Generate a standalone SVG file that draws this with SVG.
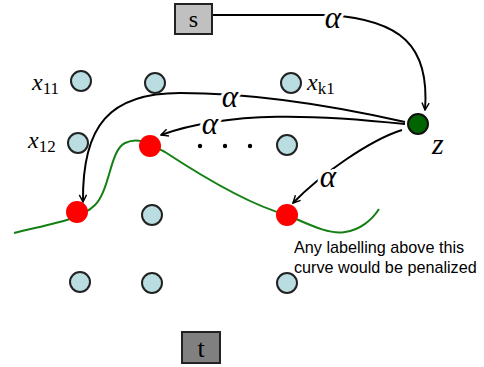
<svg xmlns="http://www.w3.org/2000/svg" width="484" height="367" viewBox="0 0 484 367">
<defs>
<marker id="ah" viewBox="0 0 10 10" refX="9" refY="5" markerWidth="9" markerHeight="9" orient="auto" markerUnits="userSpaceOnUse">
<path d="M1,1 L9,5 L1,9" fill="none" stroke="#000" stroke-width="1.6"/>
</marker>
<style>
.x{fill:#b9dde0;stroke:#222;stroke-width:2}
.r{fill:#f00}
.c{fill:none;stroke:#000;stroke-width:2}
.a{font-family:"Liberation Serif",serif;font-style:italic;font-size:31px;fill:#000;stroke:#fff;stroke-width:6px;paint-order:stroke;text-anchor:middle}
.m{font-family:"Liberation Serif",serif;font-style:italic;font-size:24px;fill:#000}
.z{font-family:"Liberation Serif",serif;font-style:italic;font-size:30px;fill:#000}
.sub{font-size:17px;font-style:normal}
.t{font-family:"Liberation Sans",Arial,sans-serif;font-size:16.2px;fill:#000}
</style>
</defs>
<rect width="484" height="367" fill="#fff"/>
<g id="connectors">
<path class="c" d="M212,15 L330,15 C400,20 430,45 425,110" marker-end="url(#ah)"/>
<path class="c" d="M405,122 C330,105 250,93 180,93 C110,93 82,125 83,202" marker-end="url(#ah)"/>
<path class="c" d="M405,124 C320,115 230,110 161,135" marker-end="url(#ah)"/>
<path class="c" d="M402,130 C370,140 320,175 293,203" marker-end="url(#ah)"/>
</g>
<g id="labels-alpha">
<text class="a" x="333" y="28">α</text>
<text class="a" x="230" y="107">α</text>
<text class="a" x="210" y="134">α</text>
<text class="a" x="328" y="187">α</text>
</g>
<g id="curve">
<path d="M14,233 C50,224 80,220 95,205 C110,190 110,150 125,143 C140,136 150,145 165,152 C200,175 250,205 287,215 C310,225 330,235 345,232 C360,230 372,220 379,209" fill="none" stroke="#148014" stroke-width="2"/>
</g>
<g id="node-s"><rect x="175" y="4" width="37" height="30" fill="#c0c0c0" stroke="#222" stroke-width="2"/><text x="193.5" y="27" font-family="Liberation Serif,serif" font-size="24" text-anchor="middle">s</text></g>
<g id="node-z"><circle cx="418" cy="124" r="10" fill="#006400" stroke="#111" stroke-width="2"/><text class="z" x="432" y="154">z</text></g>
<g id="node-x11"><circle class="x" cx="81" cy="81" r="10"/><text class="m" x="32" y="90">x<tspan class="sub" dy="4">11</tspan></text></g>
<g id="node-x21"><circle class="x" cx="155" cy="83" r="10"/></g>
<g id="node-xk1"><circle class="x" cx="291" cy="83" r="10"/><text class="m" x="307" y="90">x<tspan class="sub" dy="4">k1</tspan></text></g>
<g id="node-x12"><circle class="x" cx="78" cy="143" r="10"/><text class="m" x="28" y="148">x<tspan class="sub" dy="4">12</tspan></text></g>
<g id="node-xk2"><circle class="x" cx="287" cy="145" r="10"/></g>
<g id="dots"><circle cx="200" cy="146" r="2.2" fill="#000"/><circle cx="225" cy="146" r="2.2" fill="#000"/><circle cx="250" cy="146" r="2.2" fill="#000"/></g>
<g id="node-r1"><circle class="r" cx="77" cy="212" r="11"/></g>
<g id="node-r2"><circle class="r" cx="150" cy="146" r="11"/></g>
<g id="node-r3"><circle class="r" cx="287" cy="215" r="11"/></g>
<g id="node-x23"><circle class="x" cx="152" cy="215" r="10"/></g>
<g id="node-x14"><circle class="x" cx="80" cy="282" r="10"/></g>
<g id="node-x24"><circle class="x" cx="152" cy="283" r="10"/></g>
<g id="node-xk4"><circle class="x" cx="287" cy="283" r="10"/></g>
<g id="note"><text class="t" x="294" y="253">Any labelling above this</text><text class="t" x="294" y="273">curve would be penalized</text></g>
<g id="node-t"><rect x="182" y="332" width="38" height="31" fill="#808080" stroke="#222" stroke-width="2"/><text x="201" y="357" font-family="Liberation Serif,serif" font-size="26" text-anchor="middle">t</text></g>
</svg>
